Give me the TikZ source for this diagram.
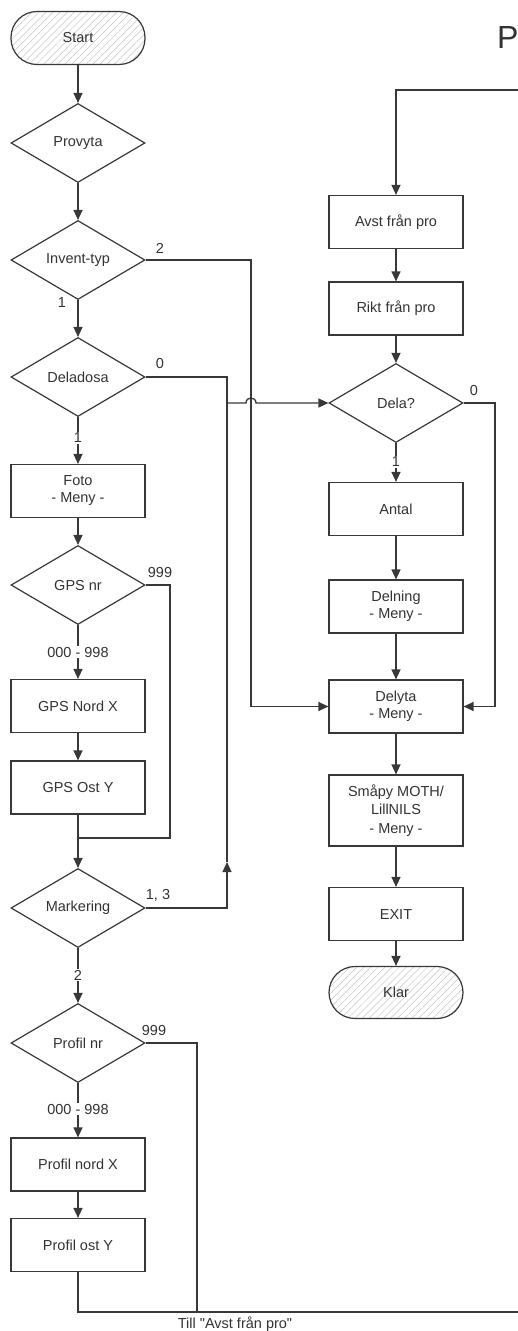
\documentclass[tikz,border=0pt]{standalone}
\usepackage{fontspec}
\newfontfamily\plainf{Liberation Sans}
\usetikzlibrary{shapes.geometric,arrows.meta,patterns.meta}
\begin{document}
\begin{tikzpicture}[x=1pt,y=-1pt,
  every node/.style={font=\plainf\fontsize{14.5}{17}\selectfont, text=black!80},
  ln/.style={draw=black!78, line width=1.3pt},
  arr/.style={ln, -{Triangle[length=10pt,width=9pt]}},
  box/.style={draw=black!78, line width=1.2pt, rectangle, minimum width=134pt, minimum height=53pt, align=center, inner sep=0pt},
  dec/.style={draw=black!78, line width=1.2pt, diamond, minimum width=134pt, minimum height=79pt, inner sep=0pt, aspect=1.7},
  term/.style={draw=black!78, line width=1.2pt, rectangle, rounded corners=26pt, minimum width=134pt, minimum height=53pt, pattern={Lines[angle=45,distance=5pt,line width=0.5pt]}, pattern color=gray!45},
  lbl/.style={inner sep=1pt},
  onl/.style={fill=white, inner sep=1pt}]
\useasboundingbox (0,0) rectangle (518,1331);
\fill[white] (0,0) rectangle (518,1331);

% title
\node[anchor=base west, inner sep=0pt, font=\plainf\fontsize{32}{36}\selectfont] (title) at (497,48) {P};

% left column
\node[term] (start) at (78,38) {Start};
\node[dec] (provyta) at (78,143) {Provyta};
\node[dec] (invent) at (78,260) {Invent-typ};
\node[dec] (deladosa) at (78,377) {Deladosa};
\node[box] (foto) at (78,491) {Foto\\- Meny -};
\node[dec] (gpsnr) at (78,585) {GPS nr};
\node[box] (gpsx) at (78,706) {GPS Nord X};
\node[box] (gpsy) at (78,787.5) {GPS Ost Y};
\node[dec] (mark) at (78,908) {Markering};
\node[dec] (profnr) at (78,1043) {Profil nr};
\node[box] (profx) at (78,1164.5) {Profil nord X};
\node[box] (profy) at (78,1245) {Profil ost Y};

% right column
\node[box] (avst) at (396,222) {Avst från pro};
\node[box] (rikt) at (396,308.5) {Rikt från pro};
\node[dec] (dela) at (396,403) {Dela?};
\node[box] (antal) at (396,509) {Antal};
\node[box] (delning) at (396,606.5) {Delning\\- Meny -};
\node[box] (delyta) at (396,706.5) {Delyta\\- Meny -};
\node[box, minimum height=71pt, font=\plainf\fontsize{14.5}{18.5}\selectfont] (smapy) at (396,810.5) {Småpy MOTH/\\LillNILS\\- Meny -};
\node[box] (exit) at (396,914) {EXIT};
\node[term, minimum height=52pt] (klar) at (396,992.5) {Klar};

% left column connectors
\draw[arr] (start) -- (provyta);
\draw[arr] (provyta) -- (invent);
\draw[arr] (invent) -- (deladosa);
\node[lbl] (l1) at (62,303) {1};

\coordinate (i1) at (251,260);
\coordinate (i2) at (251,706.5);
\draw[arr] (invent.east) -- (i1) -- (i2) -- (delyta.west);
\node[lbl] (l2) at (160,248) {2};

\coordinate (d1) at (227,377);
\coordinate (d2) at (227,403);
\coordinate (j1) at (246,403);
\coordinate (j2) at (256,403);
\draw[ln] (deladosa.east) -- (d1) -- (d2);
\draw[arr] (d2) -- (j1) .. controls (246,396.3) and (256,396.3) .. (j2) -- (dela.west);
\node[lbl] (l0) at (160,364) {0};

\draw[arr] (deladosa) -- (foto);
\node[onl] (l1b) at (78,438) {1};
\draw[arr] (foto) -- (gpsnr);
\draw[arr] (gpsnr) -- (gpsx);
\node[onl] (lr1) at (78,652) {000 - 998};
\coordinate (g1) at (170,585);
\coordinate (g2) at (170,838);
\coordinate (g3) at (78,838);
\draw[ln] (gpsnr.east) -- (g1) -- (g2) -- (g3);
\node[lbl] (l999a) at (160,572) {999};
\draw[arr] (gpsx) -- (gpsy);
\draw[arr] (gpsy) -- (mark);

\coordinate (m1) at (227,908);
\coordinate (m2) at (227,862);
\draw[arr] (mark.east) -- (m1) -- (m2);
\draw[ln] (m2) -- (d2);
\node[lbl] (l13) at (158,895) {1, 3};

\draw[arr] (mark) -- (profnr);
\node[onl] (l2b) at (78,975) {2};
\draw[arr] (profnr) -- (profx);
\node[onl] (lr2) at (78,1109) {000 - 998};
\draw[arr] (profx) -- (profy);
\coordinate (p1) at (197,1043);
\coordinate (p2) at (197,1312);
\coordinate (p3) at (522,1312);
\coordinate (p4) at (78,1312);
\draw[ln] (profnr.east) -- (p1) -- (p2) -- (p3);
\draw[ln] (profy) -- (p4) -- (p2);
\node[lbl] (l999b) at (154,1030) {999};
\node[lbl] (till) at (235,1324) {Till "Avst från pro"};

% right column connectors
\coordinate (t1) at (522,90);
\coordinate (t2) at (396,90);
\draw[arr] (t1) -- (t2) -- (avst);
\draw[arr] (avst) -- (rikt);
\draw[arr] (rikt) -- (dela);
\draw[arr] (dela) -- (antal);
\node[onl] (l1c) at (396,462) {1};
\coordinate (e1) at (495,403);
\coordinate (e2) at (495,706.5);
\draw[arr] (dela.east) -- (e1) -- (e2) -- (delyta.east);
\node[lbl] (l0b) at (474,391) {0};
\draw[arr] (antal) -- (delning);
\draw[arr] (delning) -- (delyta);
\draw[arr] (delyta) -- (smapy);
\draw[arr] (smapy) -- (exit);
\draw[arr] (exit) -- (klar);
\end{tikzpicture}
\end{document}
